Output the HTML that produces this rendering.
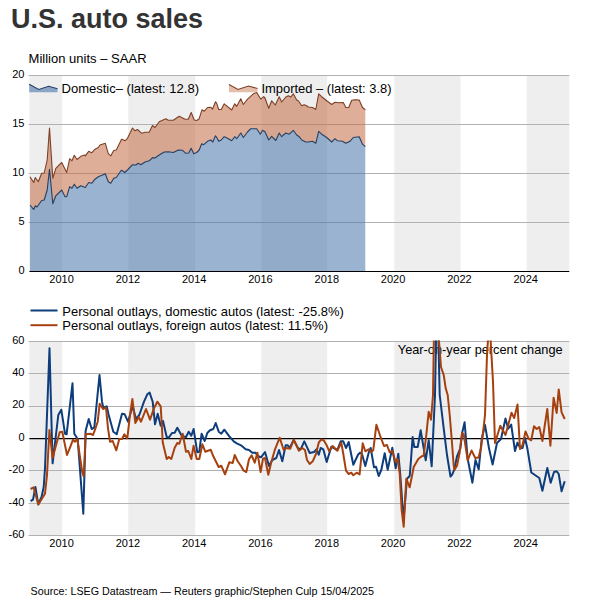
<!DOCTYPE html>
<html><head><meta charset="utf-8"><title>U.S. auto sales</title>
<style>
html,body{margin:0;padding:0;background:#fff;}
body{width:600px;height:600px;overflow:hidden;font-family:"Liberation Sans",sans-serif;}
svg{display:block;}
text{font-family:"Liberation Sans",sans-serif;fill:#000;}
</style></head><body>
<svg width="600" height="600" viewBox="0 0 600 600">
<rect width="600" height="600" fill="#fff"/>
<text x="11" y="28.3" font-size="27" font-weight="bold" textLength="192" lengthAdjust="spacingAndGlyphs" style="fill:#333">U.S. auto sales</text>
<text x="28.6" y="63.2" font-size="12.2" textLength="118" lengthAdjust="spacingAndGlyphs">Million units – SAAR</text>
<rect x="29.4" y="75.5" width="32.8" height="196.0" fill="#eeeeee"/>
<rect x="128.3" y="75.5" width="66.9" height="196.0" fill="#eeeeee"/>
<rect x="261.3" y="75.5" width="65.9" height="196.0" fill="#eeeeee"/>
<rect x="394.3" y="75.5" width="66.2" height="196.0" fill="#eeeeee"/>
<rect x="526.7" y="75.5" width="42.6" height="196.0" fill="#eeeeee"/>
<line x1="28.6" x2="569.3" y1="222.5" y2="222.5" stroke="#b2b2b2" stroke-width="1"/>
<line x1="28.6" x2="569.3" y1="173.5" y2="173.5" stroke="#b2b2b2" stroke-width="1"/>
<line x1="28.6" x2="569.3" y1="124.5" y2="124.5" stroke="#b2b2b2" stroke-width="1"/>
<line x1="28.6" x2="569.3" y1="75.5" y2="75.5" stroke="#b2b2b2" stroke-width="1"/>
<polygon points="30.0,205.0 33.7,209.5 35.3,205.8 37.0,207.0 41.7,200.5 44.2,200.0 47.2,190.0 49.5,169.2 52.8,203.8 55.8,195.8 61.7,190.0 65.0,196.7 66.7,196.7 69.7,186.7 72.0,188.3 74.3,184.2 77.0,188.3 80.8,185.8 85.3,187.5 88.7,182.5 91.7,183.3 95.0,179.2 98.3,176.7 102.5,175.0 105.3,173.7 108.3,181.7 110.8,183.3 113.7,178.3 116.3,177.5 121.3,170.3 122.0,170.5 124.7,172.5 127.5,170.0 132.5,164.7 135.8,165.0 138.3,163.3 140.8,164.7 145.0,162.0 149.2,160.8 152.8,157.5 154.5,158.3 159.2,155.0 164.2,152.0 168.3,151.7 173.3,152.5 178.3,150.0 182.5,150.3 185.8,153.3 188.7,153.0 191.2,148.3 193.7,153.7 196.7,152.5 199.2,150.0 201.7,143.7 203.8,144.7 207.5,141.3 210.8,140.0 212.8,142.0 215.5,135.8 216.7,137.5 218.7,141.2 221.3,140.0 224.2,136.7 227.5,138.3 231.7,140.8 234.7,136.7 236.7,138.7 240.8,133.0 243.3,137.5 247.5,132.0 250.8,128.7 256.7,128.7 260.3,134.2 262.5,130.3 265.0,131.7 268.7,140.0 271.7,136.3 275.8,140.5 279.2,133.0 281.7,136.7 285.8,133.0 289.2,134.2 293.3,130.3 296.7,135.0 299.2,136.7 301.7,140.0 305.8,142.0 308.3,142.0 312.5,141.3 315.8,143.3 318.7,131.3 321.7,134.2 326.7,137.5 331.7,142.0 335.0,138.7 337.5,140.8 342.5,141.3 345.8,143.3 350.0,141.3 353.3,137.5 359.2,136.7 362.5,144.2 365.3,146.7 365.3,271.5 30.0,271.5" fill="#4775aa" fill-opacity="0.55"/>
<polygon points="30.0,176.7 33.7,182.5 35.3,177.5 38.3,181.7 41.7,173.3 44.2,173.0 47.2,160.0 49.5,128.0 52.8,178.3 55.8,168.3 61.7,162.5 66.7,172.5 69.7,158.7 72.0,160.8 74.3,155.3 77.0,159.5 80.8,156.3 84.5,155.0 85.3,155.8 88.7,151.3 91.7,152.8 95.0,149.2 98.3,147.5 100.0,145.0 105.3,143.3 108.3,153.7 110.8,155.8 113.7,150.5 116.3,150.0 121.3,139.7 122.0,139.2 125.0,140.8 127.5,138.3 132.5,128.0 135.0,130.8 137.5,129.5 141.7,133.3 145.0,132.2 149.2,132.2 152.5,125.5 155.0,127.5 159.2,121.7 165.8,118.7 168.3,120.3 173.3,120.3 179.2,116.3 185.0,119.2 188.3,119.2 191.2,112.5 194.2,120.0 196.7,120.5 199.2,118.7 202.0,109.7 204.2,111.3 207.5,107.5 210.8,107.2 212.5,109.2 215.5,101.7 216.7,103.3 218.7,109.5 221.3,109.5 224.2,103.8 231.7,110.0 234.7,103.8 236.7,106.3 240.8,98.7 243.3,104.5 247.5,99.2 253.3,93.8 256.7,92.5 260.8,99.2 263.7,96.7 265.0,98.0 268.7,108.3 271.7,100.8 275.3,105.0 279.2,96.7 281.7,102.0 285.8,97.0 288.3,95.8 290.8,97.0 293.3,93.8 296.7,100.0 298.3,100.8 301.7,105.8 304.2,104.7 306.7,105.8 308.3,107.0 312.5,107.5 315.8,109.5 318.7,93.8 321.7,96.7 326.7,100.8 331.7,104.5 335.0,102.2 339.2,102.8 343.3,102.5 345.8,107.5 348.7,107.5 351.7,100.3 355.0,99.7 359.2,100.0 362.5,107.5 365.3,109.7 365.3,146.7 362.5,144.2 359.2,136.7 353.3,137.5 350.0,141.3 345.8,143.3 342.5,141.3 337.5,140.8 335.0,138.7 331.7,142.0 326.7,137.5 321.7,134.2 318.7,131.3 315.8,143.3 312.5,141.3 308.3,142.0 305.8,142.0 301.7,140.0 299.2,136.7 296.7,135.0 293.3,130.3 289.2,134.2 285.8,133.0 281.7,136.7 279.2,133.0 275.8,140.5 271.7,136.3 268.7,140.0 265.0,131.7 262.5,130.3 260.3,134.2 256.7,128.7 250.8,128.7 247.5,132.0 243.3,137.5 240.8,133.0 236.7,138.7 234.7,136.7 231.7,140.8 227.5,138.3 224.2,136.7 221.3,140.0 218.7,141.2 216.7,137.5 215.5,135.8 212.8,142.0 210.8,140.0 207.5,141.3 203.8,144.7 201.7,143.7 199.2,150.0 196.7,152.5 193.7,153.7 191.2,148.3 188.7,153.0 185.8,153.3 182.5,150.3 178.3,150.0 173.3,152.5 168.3,151.7 164.2,152.0 159.2,155.0 154.5,158.3 152.8,157.5 149.2,160.8 145.0,162.0 140.8,164.7 138.3,163.3 135.8,165.0 132.5,164.7 127.5,170.0 124.7,172.5 122.0,170.5 121.3,170.3 116.3,177.5 113.7,178.3 110.8,183.3 108.3,181.7 105.3,173.7 102.5,175.0 98.3,176.7 95.0,179.2 91.7,183.3 88.7,182.5 85.3,187.5 80.8,185.8 77.0,188.3 74.3,184.2 72.0,188.3 69.7,186.7 66.7,196.7 65.0,196.7 61.7,190.0 55.8,195.8 52.8,203.8 49.5,169.2 47.2,190.0 44.2,200.0 41.7,200.5 37.0,207.0 35.3,205.8 33.7,209.5 30.0,205.0" fill="#c36c44" fill-opacity="0.55"/>
<polyline points="30.0,176.7 33.7,182.5 35.3,177.5 38.3,181.7 41.7,173.3 44.2,173.0 47.2,160.0 49.5,128.0 52.8,178.3 55.8,168.3 61.7,162.5 66.7,172.5 69.7,158.7 72.0,160.8 74.3,155.3 77.0,159.5 80.8,156.3 84.5,155.0 85.3,155.8 88.7,151.3 91.7,152.8 95.0,149.2 98.3,147.5 100.0,145.0 105.3,143.3 108.3,153.7 110.8,155.8 113.7,150.5 116.3,150.0 121.3,139.7 122.0,139.2 125.0,140.8 127.5,138.3 132.5,128.0 135.0,130.8 137.5,129.5 141.7,133.3 145.0,132.2 149.2,132.2 152.5,125.5 155.0,127.5 159.2,121.7 165.8,118.7 168.3,120.3 173.3,120.3 179.2,116.3 185.0,119.2 188.3,119.2 191.2,112.5 194.2,120.0 196.7,120.5 199.2,118.7 202.0,109.7 204.2,111.3 207.5,107.5 210.8,107.2 212.5,109.2 215.5,101.7 216.7,103.3 218.7,109.5 221.3,109.5 224.2,103.8 231.7,110.0 234.7,103.8 236.7,106.3 240.8,98.7 243.3,104.5 247.5,99.2 253.3,93.8 256.7,92.5 260.8,99.2 263.7,96.7 265.0,98.0 268.7,108.3 271.7,100.8 275.3,105.0 279.2,96.7 281.7,102.0 285.8,97.0 288.3,95.8 290.8,97.0 293.3,93.8 296.7,100.0 298.3,100.8 301.7,105.8 304.2,104.7 306.7,105.8 308.3,107.0 312.5,107.5 315.8,109.5 318.7,93.8 321.7,96.7 326.7,100.8 331.7,104.5 335.0,102.2 339.2,102.8 343.3,102.5 345.8,107.5 348.7,107.5 351.7,100.3 355.0,99.7 359.2,100.0 362.5,107.5 365.3,109.7" fill="none" stroke="#7d4026" stroke-width="1.1" stroke-linejoin="round"/>
<polyline points="30.0,205.0 33.7,209.5 35.3,205.8 37.0,207.0 41.7,200.5 44.2,200.0 47.2,190.0 49.5,169.2 52.8,203.8 55.8,195.8 61.7,190.0 65.0,196.7 66.7,196.7 69.7,186.7 72.0,188.3 74.3,184.2 77.0,188.3 80.8,185.8 85.3,187.5 88.7,182.5 91.7,183.3 95.0,179.2 98.3,176.7 102.5,175.0 105.3,173.7 108.3,181.7 110.8,183.3 113.7,178.3 116.3,177.5 121.3,170.3 122.0,170.5 124.7,172.5 127.5,170.0 132.5,164.7 135.8,165.0 138.3,163.3 140.8,164.7 145.0,162.0 149.2,160.8 152.8,157.5 154.5,158.3 159.2,155.0 164.2,152.0 168.3,151.7 173.3,152.5 178.3,150.0 182.5,150.3 185.8,153.3 188.7,153.0 191.2,148.3 193.7,153.7 196.7,152.5 199.2,150.0 201.7,143.7 203.8,144.7 207.5,141.3 210.8,140.0 212.8,142.0 215.5,135.8 216.7,137.5 218.7,141.2 221.3,140.0 224.2,136.7 227.5,138.3 231.7,140.8 234.7,136.7 236.7,138.7 240.8,133.0 243.3,137.5 247.5,132.0 250.8,128.7 256.7,128.7 260.3,134.2 262.5,130.3 265.0,131.7 268.7,140.0 271.7,136.3 275.8,140.5 279.2,133.0 281.7,136.7 285.8,133.0 289.2,134.2 293.3,130.3 296.7,135.0 299.2,136.7 301.7,140.0 305.8,142.0 308.3,142.0 312.5,141.3 315.8,143.3 318.7,131.3 321.7,134.2 326.7,137.5 331.7,142.0 335.0,138.7 337.5,140.8 342.5,141.3 345.8,143.3 350.0,141.3 353.3,137.5 359.2,136.7 362.5,144.2 365.3,146.7" fill="none" stroke="#263f63" stroke-width="1.1" stroke-linejoin="round"/>
<line x1="29.4" x2="569.3" y1="271.5" y2="271.5" stroke="#000" stroke-width="1"/>
<text x="24.5" y="273.8" font-size="11" text-anchor="end">0</text>
<text x="24.5" y="224.8" font-size="11" text-anchor="end">5</text>
<text x="24.5" y="175.8" font-size="11" text-anchor="end">10</text>
<text x="24.5" y="126.8" font-size="11" text-anchor="end">15</text>
<text x="24.5" y="77.8" font-size="11" text-anchor="end">20</text>
<text x="61.6" y="283" font-size="11" text-anchor="middle">2010</text>
<text x="127.9" y="283" font-size="11" text-anchor="middle">2012</text>
<text x="194.2" y="283" font-size="11" text-anchor="middle">2014</text>
<text x="260.5" y="283" font-size="11" text-anchor="middle">2016</text>
<text x="326.8" y="283" font-size="11" text-anchor="middle">2018</text>
<text x="393.1" y="283" font-size="11" text-anchor="middle">2020</text>
<text x="459.4" y="283" font-size="11" text-anchor="middle">2022</text>
<text x="525.7" y="283" font-size="11" text-anchor="middle">2024</text>
<polygon points="29.2,84.3 38.7,89.5 48.7,86.3 57.5,88.7 57.5,92.3 29.2,92.3" fill="#4775aa" fill-opacity="0.6"/>
<polyline points="29.2,84.3 38.7,89.5 48.7,86.3 57.5,88.7" fill="none" stroke="#263f63" stroke-width="1.1"/>
<text x="61.5" y="92.7" font-size="12.4" textLength="137.5" lengthAdjust="spacingAndGlyphs">Domestic– (latest: 12.8)</text>
<polygon points="229,84.5 238,89.5 248.5,86 257.5,88.5 257.5,92.2 229,92.2" fill="#c36c44" fill-opacity="0.45"/>
<polyline points="229,84.5 238,89.5 248.5,86 257.5,88.5" fill="none" stroke="#7d4026" stroke-width="1.1"/>
<text x="261.5" y="92.7" font-size="12.4" textLength="130" lengthAdjust="spacingAndGlyphs">Imported – (latest: 3.8)</text>
<rect x="29.4" y="341.0" width="32.8" height="195.0" fill="#eeeeee"/>
<rect x="128.3" y="341.0" width="66.9" height="195.0" fill="#eeeeee"/>
<rect x="261.3" y="341.0" width="65.9" height="195.0" fill="#eeeeee"/>
<rect x="394.3" y="341.0" width="66.2" height="195.0" fill="#eeeeee"/>
<rect x="526.7" y="341.0" width="42.6" height="195.0" fill="#eeeeee"/>
<line x1="28.6" x2="569.3" y1="535.5" y2="535.5" stroke="#b2b2b2" stroke-width="1"/>
<line x1="28.6" x2="569.3" y1="503.5" y2="503.5" stroke="#b2b2b2" stroke-width="1"/>
<line x1="28.6" x2="569.3" y1="470.5" y2="470.5" stroke="#b2b2b2" stroke-width="1"/>
<line x1="28.6" x2="569.3" y1="406.5" y2="406.5" stroke="#b2b2b2" stroke-width="1"/>
<line x1="28.6" x2="569.3" y1="373.5" y2="373.5" stroke="#b2b2b2" stroke-width="1"/>
<line x1="28.6" x2="569.3" y1="341.5" y2="341.5" stroke="#b2b2b2" stroke-width="1"/>
<line x1="29.4" x2="569.3" y1="438.5" y2="438.5" stroke="#000" stroke-width="1.25"/>
<text x="397.8" y="353.8" font-size="12.4" textLength="164.8" lengthAdjust="spacingAndGlyphs">Year-on-year percent change</text>
<clipPath id="cb"><rect x="29.4" y="340.5" width="539.9" height="196.0"/></clipPath>
<g clip-path="url(#cb)"><polyline points="30.6,501.0 33.0,499.7 35.4,487.0 38.3,504.3 41.7,496.3 43.7,487.0 45.0,468.3 49.5,348.3 52.6,463.3 58.3,415.0 61.3,409.7 65.0,433.7 66.6,434.3 72.5,383.3 74.3,433.7 77.7,439.0 83.3,513.7 85.0,455.0 85.6,431.0 88.7,419.0 91.7,429.0 94.3,427.7 99.5,375.0 102.0,401.7 103.3,407.7 106.7,406.3 108.7,415.0 113.3,431.7 116.7,434.3 122.0,413.7 124.7,414.3 128.0,421.7 130.0,415.0 132.7,406.3 136.0,419.0 139.3,415.0 144.0,401.7 147.3,394.3 149.6,392.6 152.7,401.7 155.0,424.3 157.7,413.7 160.7,425.7 163.0,421.0 166.7,437.0 168.7,437.7 172.0,433.0 174.7,432.7 177.3,427.7 182.0,436.3 186.0,437.0 188.7,431.7 191.3,435.7 193.6,429.0 197.3,452.3 199.3,451.7 201.6,433.7 204.7,441.0 207.3,433.0 210.0,430.3 213.3,429.0 215.7,423.0 218.7,431.7 221.3,433.7 224.3,429.7 229.3,436.3 234.0,441.7 237.3,443.7 241.0,445.3 245.7,449.3 249.0,450.0 252.3,452.7 255.7,452.7 257.7,456.0 261.0,457.3 265.0,452.0 269.0,466.0 272.3,460.0 276.3,458.0 279.0,450.0 282.3,461.3 285.7,445.3 287.7,445.3 289.7,448.0 293.7,440.0 298.3,448.7 301.0,448.7 304.3,441.3 307.7,448.7 309.7,453.0 314.0,452.0 316.7,449.3 318.7,454.7 320.7,448.0 323.3,449.3 326.7,462.0 331.3,446.7 334.7,448.7 337.3,450.0 340.7,441.3 343.3,441.3 346.0,448.0 348.7,442.0 353.3,464.7 358.0,454.7 360.0,452.7 362.0,454.0 365.3,466.0 368.7,452.7 370.7,448.0 374.0,467.3 376.0,466.7 378.7,476.0 381.3,470.0 384.7,453.3 387.7,469.7 392.3,447.7 395.7,468.3 398.3,453.7 400.3,475.0 403.5,520.0 407.0,478.7 409.7,476.0 411.0,460.0 412.6,437.0 414.3,447.0 417.7,447.0 420.7,430.3 425.7,460.3 428.7,440.3 431.7,466.3 435.0,395.0 436.2,330.0 438.2,330.0 439.7,395.0 443.7,428.3 447.0,455.0 450.5,476.5 452.3,474.3 454.3,469.7 457.0,456.3 460.3,448.3 462.3,432.3 464.6,422.3 467.7,459.0 472.4,482.7 475.5,460.0 478.7,469.3 481.7,439.0 485.0,425.0 489.0,448.3 492.6,464.5 497.0,443.0 501.0,439.0 505.5,418.5 508.2,428.7 511.2,424.6 515.0,451.0 517.5,442.6 520.3,448.3 522.5,448.0 525.0,438.0 527.3,448.2 531.3,472.5 535.3,475.3 539.3,478.0 542.4,490.7 547.3,468.0 550.7,482.7 554.0,472.0 556.7,471.3 558.7,474.0 561.6,491.3 564.7,481.3" fill="none" stroke="#0d3d7c" stroke-width="2" stroke-linejoin="round"/>
<polyline points="30.6,489.0 33.7,487.4 38.3,504.6 41.7,499.0 45.0,493.7 47.0,475.0 49.4,430.0 52.6,458.0 56.3,444.3 59.7,432.3 62.3,431.7 67.0,455.0 69.7,448.3 73.0,439.7 75.0,441.7 77.3,439.0 82.3,472.3 83.7,476.5 85.7,434.3 90.3,433.7 93.0,435.0 95.0,429.7 97.7,421.7 99.7,403.7 103.0,409.0 106.0,407.7 108.0,428.3 110.0,441.7 112.7,441.0 116.3,450.3 119.3,439.0 122.0,439.0 124.4,434.3 127.3,438.3 130.0,415.0 132.4,399.0 135.3,423.0 138.7,417.0 141.0,421.7 146.0,409.0 150.0,419.7 154.0,408.3 157.3,401.7 160.7,406.3 162.0,428.3 162.7,442.3 166.7,459.0 168.7,457.0 171.3,459.0 174.7,447.7 177.3,443.0 179.3,443.7 182.7,433.7 186.0,451.7 188.3,451.0 191.3,459.0 193.6,445.7 196.7,459.0 199.3,459.0 202.4,444.3 205.3,451.7 210.7,449.7 213.3,456.3 218.7,467.0 221.3,465.7 225.0,474.3 229.3,462.3 232.7,463.0 234.7,455.0 237.7,461.3 241.0,466.0 243.7,470.7 246.3,472.0 249.0,459.3 251.7,455.3 254.7,462.7 257.4,452.7 260.6,472.0 263.0,458.7 265.0,458.0 268.3,474.7 271.0,463.3 275.0,449.3 279.7,437.7 283.7,450.0 286.3,448.0 290.3,448.7 293.7,439.6 299.0,450.7 302.3,448.0 305.0,450.0 307.0,460.0 309.7,464.0 312.7,461.3 316.0,454.0 318.7,442.7 321.3,439.3 324.0,440.7 326.7,445.3 329.3,451.3 332.7,446.0 337.3,450.7 341.3,442.7 343.3,454.0 346.0,470.7 348.7,474.0 351.3,472.7 353.3,475.3 356.7,472.7 359.6,474.4 362.7,443.3 365.3,451.3 368.7,449.3 371.3,452.0 373.3,450.0 376.4,424.7 380.0,435.3 384.0,446.0 387.0,445.0 389.7,452.3 392.3,451.0 395.7,462.3 397.7,459.0 399.7,473.3 401.7,510.7 403.7,526.7 406.3,478.7 409.7,487.3 413.0,470.7 413.7,467.0 418.3,459.0 421.7,456.3 423.7,455.7 426.3,435.0 428.7,411.7 431.0,419.7 433.0,395.0 434.5,300.0 438.0,300.0 439.0,341.3 441.0,367.0 443.7,375.0 445.7,388.3 447.7,395.0 449.7,415.0 451.7,439.0 453.7,465.7 454.5,469.7 457.0,465.7 459.7,452.3 462.0,433.0 463.7,434.3 467.7,460.3 471.5,450.5 475.3,458.0 478.5,457.5 481.0,448.3 483.3,430.3 485.0,415.0 487.0,355.0 488.3,335.0 490.3,335.0 493.0,381.7 495.0,443.0 500.3,425.7 505.5,435.0 511.5,412.7 514.2,418.0 517.5,404.4 520.0,449.0 522.5,445.0 525.5,431.5 528.5,438.5 531.2,440.3 534.0,426.3 536.7,429.0 539.3,427.0 542.4,441.0 547.3,409.0 550.4,445.7 553.6,397.7 556.7,413.0 558.7,389.5 561.6,412.3 564.7,419.0" fill="none" stroke="#a7400f" stroke-width="2" stroke-linejoin="round"/></g>
<text x="24.5" y="537.9" font-size="11" text-anchor="end">-60</text>
<text x="24.5" y="505.5" font-size="11" text-anchor="end">-40</text>
<text x="24.5" y="473.1" font-size="11" text-anchor="end">-20</text>
<text x="24.5" y="440.7" font-size="11" text-anchor="end">0</text>
<text x="24.5" y="408.3" font-size="11" text-anchor="end">20</text>
<text x="24.5" y="375.9" font-size="11" text-anchor="end">40</text>
<text x="24.5" y="343.5" font-size="11" text-anchor="end">60</text>
<text x="61.6" y="547.1" font-size="11" text-anchor="middle">2010</text>
<text x="127.9" y="547.1" font-size="11" text-anchor="middle">2012</text>
<text x="194.2" y="547.1" font-size="11" text-anchor="middle">2014</text>
<text x="260.5" y="547.1" font-size="11" text-anchor="middle">2016</text>
<text x="326.8" y="547.1" font-size="11" text-anchor="middle">2018</text>
<text x="393.1" y="547.1" font-size="11" text-anchor="middle">2020</text>
<text x="459.4" y="547.1" font-size="11" text-anchor="middle">2022</text>
<text x="525.7" y="547.1" font-size="11" text-anchor="middle">2024</text>
<line x1="30.5" x2="57.5" y1="310.5" y2="310.5" stroke="#0d3d7c" stroke-width="2"/>
<text x="62.3" y="315.5" font-size="12.4" textLength="281.5" lengthAdjust="spacingAndGlyphs">Personal outlays, domestic autos (latest: -25.8%)</text>
<line x1="30.5" x2="57.5" y1="325.2" y2="325.2" stroke="#a7400f" stroke-width="2"/>
<text x="62.3" y="330.1" font-size="12.4" textLength="265.7" lengthAdjust="spacingAndGlyphs">Personal outlays, foreign autos (latest: 11.5%)</text>
<text x="30.6" y="595" font-size="10.6" textLength="343.4" lengthAdjust="spacingAndGlyphs">Source: LSEG Datastream — Reuters graphic/Stephen Culp 15/04/2025</text>
</svg></body></html>
